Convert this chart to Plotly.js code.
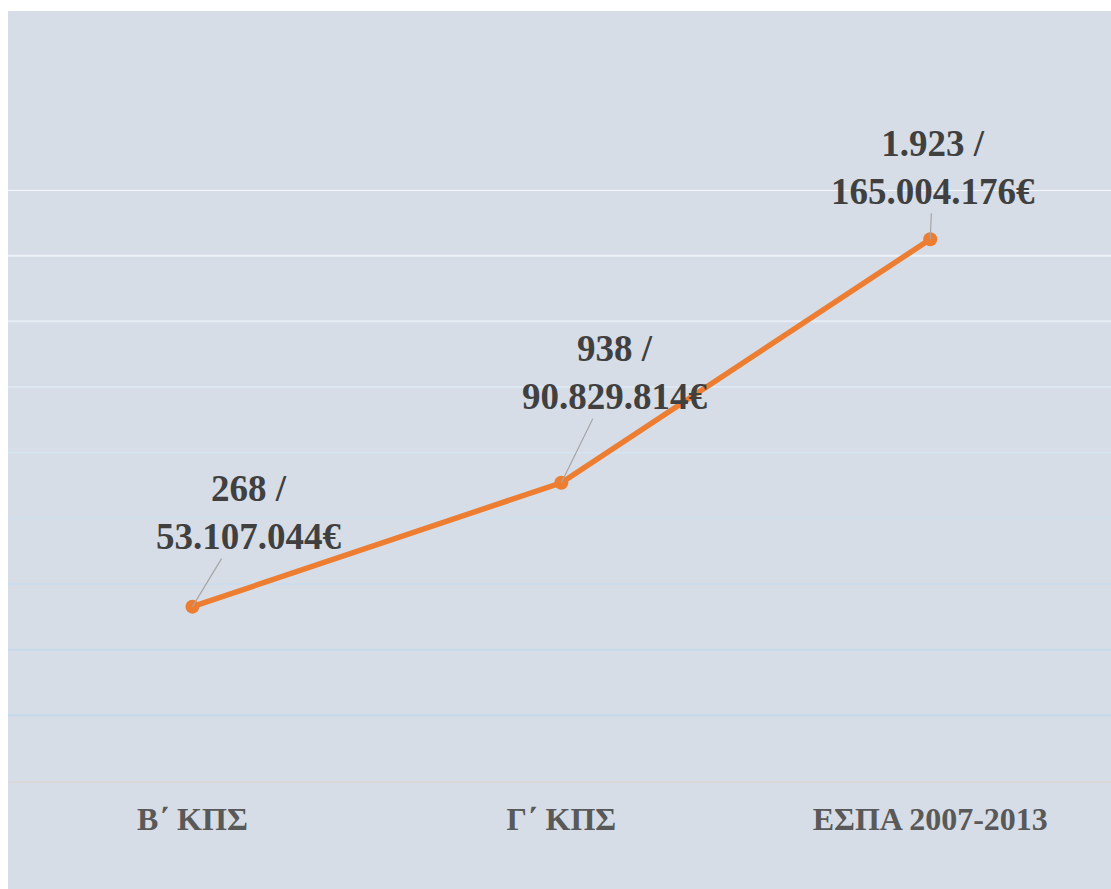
<!DOCTYPE html>
<html>
<head>
<meta charset="utf-8">
<script src="https://cdn.plot.ly/plotly-3.0.1.min.js"></script>
<style>
html, body { margin: 0; padding: 0; background: #ffffff; }
#chart { position: absolute; left: 8px; top: 11px; width: 1103px; height: 878px; }
</style>
</head>
<body>
<div id="chart"></div>
<script>
const categories = ["Β΄ ΚΠΣ", "Γ΄ ΚΠΣ", "ΕΣΠΑ 2007-2013"];
const projects = [268, 938, 1923];
const budgets = [53107044, 90829814, 165004176];
const gridValues = [20000000, 40000000, 60000000, 80000000, 100000000, 120000000, 140000000, 160000000, 180000000];
const gridColors = ["#c4d8ea", "#c6d9eb", "#cbdcec", "#d0dfee", "#d6e3f0", "#dde7f2", "#e6edf5", "#eef2f8", "#f6f8fb"];

function fmt(n) {
  return String(n).replace(/\B(?=(\d{3})+(?!\d))/g, ".");
}

const labelOffsets = [[57, -94], [54, -110], [3, -72]];

const trace = {
  x: categories,
  y: budgets,
  type: "scatter",
  mode: "lines+markers",
  line: { color: "#ed7d31", width: 5.5 },
  marker: { color: "#ed7d31", size: 14 },
  hoverinfo: "skip"
};

const annotations = categories.map((c, i) => ({
  x: c,
  y: budgets[i],
  xref: "x",
  yref: "y",
  text: "<b>" + fmt(projects[i]) + " /<br>" + fmt(budgets[i]) + "€</b>",
  showarrow: true,
  arrowhead: 0,
  arrowwidth: 1.2,
  arrowcolor: "#a6a6a6",
  ax: labelOffsets[i][0],
  ay: labelOffsets[i][1],
  font: { family: "Liberation Serif, Times New Roman, serif", size: 37, color: "#404040" },
  align: "center"
}));

const shapes = gridValues.map((v, i) => ({
  type: "line",
  xref: "paper",
  yref: "y",
  x0: 0, x1: 1,
  y0: v, y1: v,
  line: { color: gridColors[i], width: 2 },
  layer: "below"
}));

const layout = {
  width: 1103,
  height: 878,
  margin: { l: 0, r: 0, t: 179, b: 108 },
  paper_bgcolor: "#d6dde6",
  plot_bgcolor: "#d6dde6",
  showlegend: false,
  xaxis: {
    type: "category",
    range: [-0.5, 2.49],
    showgrid: false,
    zeroline: false,
    showline: true,
    linecolor: "#d9d9d9",
    linewidth: 2,
    ticks: "",
    tickvals: categories,
    ticktext: categories.map(c => "<b>" + c + "</b>"),
    tickfont: { family: "Liberation Serif, Times New Roman, serif", size: 32, color: "#595959" },
    ticklabelstandoff: 9
  },
  yaxis: {
    range: [0, 180000000],
    showgrid: false,
    zeroline: false,
    showticklabels: false,
    ticks: ""
  },
  shapes: shapes,
  annotations: annotations
};

Plotly.newPlot("chart", [trace], layout, { displayModeBar: false, staticPlot: true });
</script>
</body>
</html>
